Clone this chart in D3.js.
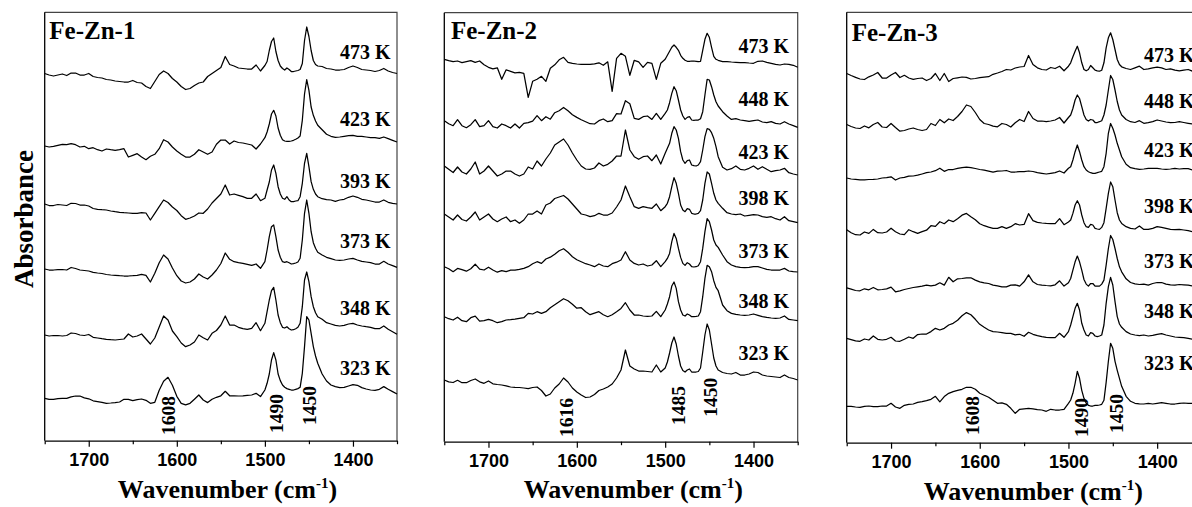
<!DOCTYPE html>
<html><head><meta charset="utf-8">
<script src="https://cdn.jsdelivr.net/npm/d3@7"></script>
<style>body{margin:0;background:#fff}svg{display:block}</style>
</head><body>
<svg id="chart" width="1192" height="507"></svg>
<script>
// ---------------- DATA ----------------
const wavenumbers = [
 1750,1745,1740,1735,1730,1725,1720,1715,1710,1705,
 1700,1695,1690,1685,1680,1675,1670,1665,1660,1655,
 1650,1645,1640,1635,1630,1625,1620,1615,1610,1605,
 1600,1595,1590,1585,1580,1575,1570,1565,1560,1555,
 1550,1545,1540,1535,1530,1525,1520,1515,1510,1505,
 1500,1497.5,1495,1492.5,1490,1487.5,1485,1482.5,1480,1477.5,
 1475,1472.5,1470,1467.5,1465,1462.5,1460,1457.5,1455,1452.5,
 1450,1447.5,1445,1442.5,1440,
 1435,1430,1425,1420,1415,1410,1405,1400,1395,1390,
 1385,1380,1375,1370,1365,1360,1355,1350];

const xTicks = [1700, 1600, 1500, 1400];
const xMinorTicks = [1750, 1650, 1550, 1450, 1350];

// Fe-Zn-1
const fezn1Temps = ["473 K","423 K","393 K","373 K","348 K","323 K"];
const fezn1Offsets = [367.2, 294.7, 236.7, 171.7, 105.7, 42.4];
const fezn1Peaks = ["1608","1490","1450"];
const fezn1PeakPos = [1610, 1487.5, 1450];
const fezn1_473K = [0,-1.5,-2.5,-1.5,-0.5,-2,0.5,0.5,-1.5,-1.5, 0,-3,-4,-4.5,-6,-6.5,-7.5,-8,-8.5,-8.5,
 -7,-9,-9.5,-13,-15,-8,-1,2.5,0,-5, -8.5,-13,-16,-15,-12,-9.5,-8.5,-3,0,3, 6,17,9,7.5,5.5,5,4.5,4.5,8.5,2.5,
 8,12,23,32,35.5,22,13,7.5,5,3.5, 5.5,4,2,2,2.5,3,4,10,33,46.5, 37,23,13,9,7.5,
 7,5,4.5,3.5,3.5,4,6,7.5,6,4, 3.5,3,2,3,5,2.5,1,0];
const fezn1_423K = [0,-1,-0.3,0.7,1.7,1.3,2.3,1.3,-1,-0.3, -2.7,-1.7,-3.7,-5,-3,-3.7,-4.3,-3.7,-2.7,-11,
 -9.3,-7.7,-11,-13.7,-10.3,-8.3,-2.7,6.3,4,-1, -5,-8.3,-11,-11,-8.3,-3.7,-6,-8.3,-6,1.7, 6,6,2,5,3.5,3,2,1,-3,2,
 8.3,14,22,32,35.7,30,18,10.7,6.3,5, 4.7,4.7,5,5.7,6.7,8,10,25.7,52,66.3, 55.7,39,30.7,25,20.7,
 16.3,11.7,9.7,8.7,9,9.7,10.3,10.7,9.7,9.7, 9,8.3,8.3,7.7,9,7.3,5.7,4];
const fezn1_393K = [0,-1.5,-1.5,-0.5,-1,-1.5,0.7,0.5,-1,-1, -2,-4.5,-5.3,-5.7,-6,-7,-7.7,-8.3,-8.7,-9,
 -9.3,-9.3,-8.7,-9,-16,-9.3,-2.7,4,1.5,-3, -6.5,-11.7,-15.3,-14,-12,-9,-9.3,-5,1,5.5, 10,19,9,10,8.7,7.3,5.7,5.7,10,3.3,
 5.7,14,22,34,39,30.7,17.3,10,5.7,4.7, 7.3,4,2.3,2.3,3,3.3,7.3,20.7,40.7,50.7, 37.3,22.3,14.7,10,7.3,
 5.3,4.3,4,2.7,4,4.7,6.7,8,6.7,4.7, 4,3,2,2,4,1.7,0.7,0];
const fezn1_373K = [0,-1,-1,-0.7,-0.5,-1,1.5,0.5,-1,-1.5, -2,-3.3,-4,-4.5,-5.5,-6,-6.3,-6.7,-7,-7,
 -6.7,-6.3,-5.3,-6.3,-13,-4.3,6.3,14,10,1, -6.7,-12,-14,-13,-10,-5,-8,-10,-6,-1, 5.5,16,9.7,7.3,6.3,5.7,4.7,3.7,5,0.7,
 7.3,19,32.3,42.3,44,32.3,19,11.7,7.3,6.7, 7.3,6.3,5,5.3,6,7,10.7,29,55.7,69, 55.7,37.3,26.3,20.7,16.7,
 14,11.7,10.3,9,8.7,9,10,10.7,9,7.7, 7,6.3,5,5,7.7,5,3.3,1.7];
const fezn1_348K = [0,-1,-0.5,-0.5,-1,-0.5,2,1.5,0,-0.5, 0.5,-2.3,-3,-3.7,-4.3,-4.7,-5,-4.5,-4,1,
 -2,-1,1,-4,-9,-3,8,19,15,4, -1.7,-8,-11.7,-10,-7,0,-2.7,-5,1.7,4.5, 10,19,10,10,7.7,6.3,5.7,6.7,12.3,4.3,
 11.7,23.3,35,44.3,47.7,35,20,12.3,7.7,7, 8.3,6.3,5,5.3,6.3,7.7,11.7,28.3,55,63, 53.3,38.3,28.3,22.3,18.3,
 15.7,12.3,11,9.7,9,9.7,11,11.7,10,9, 8.3,7.7,6.3,6.3,9,5.7,3.3,0.7];
const fezn1_323K = [0,-1,-1,-0.3,0,0,1.5,2.3,2.3,0.5, -0.5,-2.5,-3.3,-4,-5,-4.7,-4.3,-3.7,-1,-1,
 -2.3,-1.3,-0.7,-2,-5,-4,8,17,21,13, 2,-5,-6.5,-5,-1,3.3,-1.7,-4.3,-1,1, 2.5,7,2.5,2.5,2.3,2.5,3,3.3,5,1.7,
 8.3,15,24.3,38.3,45.7,38.3,24.3,17.7,13.3,11, 9.7,9,8.3,8.3,9,9.7,11,25,51.7,81.7, 78.3,65,51.7,42.3,35,
 24.3,17.3,13.3,11.7,10.7,11,12.3,13.7,13,10.7, 9.3,8.3,8,9,11.7,9,6.7,4.3];

// Fe-Zn-2
const fezn2Temps = ["473 K","448 K","423 K","398 K","373 K","348 K","323 K"];
const fezn2Offsets = [382.4, 321, 275.7, 227.7, 175, 125, 61.7];
const fezn2Peaks = ["1616","1485","1450"];
const fezn2PeakPos = [1611.5, 1485.5, 1449];
const fezn2_473K = [0,-1.3,-2.3,-1.7,-3.3,-2.3,-1.3,-3,-1.7,-5.5, -8,-9.5,-8.5,-20,-10.5,-12,-13.5,-13,-14,-38,
 -22,-20,-17,-22,-9,-5.5,-0.5,2,-3,-4, -4.7,-5,-5,-5,-4.5,-3.5,-6,-2.5,-32,1, 6,3,-16,-1,-2.5,-8,-3,-4,-20,-4,
 0,4,8,12,14.3,12,9,4,1,-1, -2,-2,-1.7,-1.7,-2,-2.3,-2,9,20,26, 22,12,3,0,-1,
 -2.3,-2.3,-2.7,-3,-3.3,-3.3,-3.7,-4,-2,-1.7, -3,-4,-5,-5.7,-4.7,-5,-6,-8];
const fezn2_448K = [0,-3,-5,1,-5,-7,-4,1,-6,-5, 0,-6,-7.3,-3.3,-5,-7.3,-3.3,-7.3,-2.7,-2,
 -0.5,5,0,4,1.5,8,10,13.3,10,6, 3.3,1,-1,-3,-3.3,0,1.7,-1,0,7, 6.7,20,17,2.3,1.3,4,4.7,1.3,7.3,1.3,
 7.3,10.7,18,27.3,34,30,20.7,10.7,4.7,1.3, 3.3,4,0.7,0.3,0.7,0.7,2,9,25.7,41.3, 40.7,34,25.7,19,14.7,
 9,4.7,1.3,2,0.7,0,-0.7,0,0.7,-1.3, -2,-1,-2.7,-3.3,-1,-3.3,-5,-6.7];
const fezn2_423K = [0,-3.3,-6.5,-1,-6,-8,-3,4,-8,-5, 0,-5,-10,-8,-5,-5,-8,-10,-8,-1,
 -3,5,0,7,13,21,24,27,21,13, 6,0,-3,-3.3,-2,3,0,1.7,5,10, 10,36,16,9.3,6.7,9.3,10,5.3,11,2,
 12.7,17.7,22.7,32.7,39.3,36,27.7,14.3,6,2.7, 5.3,6,1,0.3,0,1,4.3,16,29.3,37.3, 36.7,33.3,27.7,19.3,9.3,
 -1.3,-4,-2.7,0,-3.3,-4,-2.3,0,-3.3,-0.7, -3.3,-5.7,-4.7,-4,-2.3,-6.7,-8,-9];
const fezn2_398K = [0,-3,-6,-1,-5.5,-7,-3,2,-6,-3, 0,-5,-7.7,-5,-3,-7.7,-6,-9.3,-6,0,
 0,3,0,9,11,15.5,17,18.5,15,10, 5,0,-1,-2.7,-1.7,0.7,-1,-1,1,7, 14,28,17.3,7.3,5.7,7.3,6.3,5.7,10,3.3,
 7.3,10.7,17.3,27.3,36.3,30.7,20.7,9,4,2.3, 5.3,4.7,0.7,0,0,0.7,3.3,14,30.7,42, 40,30.7,20.7,14,10.7,
 5.7,1.3,0,-0.7,0,-2,-1.3,-0.7,-1,-2.7, -3.3,-2.7,-4.7,-6,-2.7,-6.7,-7.7,-8.7];
const fezn2_373K = [0,-2,-5,-1.7,-3,-4.5,-2,2.5,-2.5,-3.3, -0.5,-3.3,-5.5,-4,-5,-3.5,-3.5,-2.7,-1.7,0,
 3,5,3.3,7.7,9.5,12.5,16,18,14.5,10, 7,5,3,1.7,0,2.7,0.7,0,3,4.5, 6.7,15,6.7,3.3,1.7,2.7,0.7,1.7,6,0,
 5,8.3,13.3,25,33.3,28.3,18.3,9.3,3.3,1.3, 4,2.7,0,-0.3,0,1,5,18.3,35,48, 45,36.7,26.7,21.7,19.3,
 11.7,5,1.7,0,-0.7,-1,-0.7,0,0,-1.3, -2.7,-3.3,-3.3,-3.3,-1.7,-4.3,-5,-5.3];
const fezn2_348K = [0,-2,-3.3,-0.5,-4,-5,-1,0.5,-4.5,-4, -2.7,-4,-6,-5,-3.3,-3,-2.5,-1.7,-1,3.3,
 2.7,5,3.3,5,9,12,15,18,16,12.5, 8.5,9,5,2,3.5,5,2,0,2,5, 8.3,14,6.7,1.7,1.7,0.7,0.3,0.7,5.3,0,
 6.7,12.7,20,30.7,34.7,28.3,15,6.7,1.7,0.7, 2.7,1.7,0,0,0.3,0.7,5,20,38.3,51.3, 50,45,36,29.3,26,
 11.7,6,3.3,2.3,1.7,1.3,1.7,2.7,1.3,0, -0.7,-1.3,-1.7,-1.3,0.7,-2.7,-3.3,-4];
const fezn2_323K = [0,-1.8,-2.5,-0.3,-2.7,-2.7,-0.5,1,-1.8,-3.3, -1,-3.8,-4.5,-5,-5.8,-7,-7.3,-7.5,-8,-8.7,
 -7.5,-7,-10.5,-16,-14,-8,-4,2,-2,-8, -12,-15,-17.5,-17,-14.5,-10.5,-9,-7,-4,2, 10,30,14,11,9,9,8.5,8,15,8,
 12,18,27,37,43,36,24,14,9.5,8, 10,11,8,8,8,8.5,12,28,45,56, 50,36,22,14,10,
 7.5,6.5,6,7.5,5,5,6,8,7.5,5, 4,3.5,3,2.5,5,2.5,1.5,0];

// Fe-Zn-3
const fezn3Temps = ["473 K","448 K","423 K","398 K","373 K","348 K","323 K"];
const fezn3Offsets = [369.2, 318.2, 264.7, 213, 154.9, 104.4, 36.4];
const fezn3Peaks = ["1608","1490","1450"];
const fezn3PeakPos = [1609, 1486, 1446];
const fezn3_473K = [0,-2,-3.8,-5.5,-6,-3.3,-1.5,1,-4.5,-4.5, -1.5,1,-4,-1.8,-4.5,-5.8,-5,-4.5,-7,-5,
 0,-7,0,-8,-5,-4.3,-3.5,-3.8,-5.5,-5, -4.2,-3.7,-3.2,-0.8,0.5,2,4,3.5,5.5,6.5, 7,18,9,5.7,4,3.5,6,5,7.3,2.7,
 7.3,10.7,16.7,22.3,27.3,20.7,10.7,4,2.7,4, 8,5.7,3.3,2.7,2.3,3.3,10.7,25.7,35.7,40.7, 34,24,14,9,6.7,
 5,4,5.7,7.3,4,4.7,5.7,6.3,5.7,4, 4.7,3.3,2.7,3.3,4,2.3,2.3,1.7];
const fezn3_448K = [0,-2,-3.5,-4,-1.5,-3.3,0,2,-2.5,-3, 1,-3,-6.7,-6,-4.5,-3.5,-5,-6,-5,1,
 -1,5,1.7,5.5,4,8,13,19.5,18,12, 5,1,0,-1.7,-2.3,1,0,-2.5,1.7,5, 3,13,6,3.5,3.5,2.8,3.5,4.5,7,1.5,
 7,9.5,16,24.5,29.5,26,17.8,9.5,5,3.5, 5,4.5,2,2,2.8,3.8,9.5,19.5,34.5,49, 45,34.5,23,14.5,9.5,
 5,2.8,2,3.8,1.2,1.8,2.8,4.5,3.5,2.5, 1.8,2,2.8,2,1.2,0.5,0.5,0];
const fezn3_423K = [0,-1,-1.3,-1.8,-1.8,-1.5,-1.3,-1,0,0.3, 1.2,-2,0,0.7,1.8,2,2.8,4,5.3,6,
 7.3,9.8,6.7,8.5,8.5,9.7,10.3,10.8,10.3,9.5, 8.5,7.8,6.8,5.8,6.8,7,7.5,6,6,6.3, 6.3,7,6.5,5.3,4.7,4,4.7,5.3,7,5,
 9.7,11.3,18,26.3,33,26.3,18,11.3,8,6.3, 5.3,4.7,4.7,5.3,6,6.7,11.3,24.7,44.7,54.5, 49.7,43,34.7,28,21.3,
 13.7,10.3,9.3,8.7,9,9.7,9.7,9.7,9,8.7, 9,9.7,9,9.3,9.3,8,8,8];
const fezn3_398K = [0,-3,-5,-5.3,-2.3,-3.7,0.3,-3,-3.3,-2.3, 1.5,-2,-4.3,-5,0,-2,-3.7,-2,-0.5,4,
 3.3,8,6,9.7,8,11,14.5,16.3,13,10, 6,4,2.5,1.3,1.3,3,1.3,3,6,4.7, 5.3,16,9,7.3,6.7,6.3,6,6,11,5,
 7.7,9.7,16.3,24.7,29,24.7,14.7,7,3,2.3, 5.3,4.7,1.3,0.7,0.3,2.3,7,21.3,36.3,47.7, 43,29.7,17,9.7,6.3,
 3,1.3,0.7,3.7,0.3,0.3,1.3,3,2.3,1.3, 0.3,0,0.3,-0.3,-1,-2,-2,-2];
const fezn3_373K = [0,-1.3,-2.7,-3,-1,-2,0.3,-2,-1.7,-1, 0.7,-4,-3,-1.7,-0.7,0.3,1,1.7,2.7,2,
 2.7,5,2.7,10.5,6,9,9.3,10,10,7.7, 6,5,4.3,2.7,2,1,1,2.7,3,1.7, 6,13,6,3.3,2.7,2.3,2,3,7,1.7,
 5,9.3,17.7,26,31.7,26,17.7,8.3,3.7,1.7, 4.3,4.3,1.7,1.7,1.7,3.7,7.7,22.7,39.3,52.3, 48.3,39.3,29.3,21,16,
 9,5.3,4,3.3,3.7,2.7,4.3,5.3,5.3,3.7, 3,2.7,3.3,3,2.7,1.7,1.5,1.5];
const fezn3_348K = [0,-1.3,-2.5,-3,-0.7,-1.7,2.3,-1,-1.7,-1, 1,-2.7,-3,-1,1.3,0,3.7,4.3,4.3,6.7,
 10,8.3,10,13.3,15,18,22.5,25.7,23.5,19, 14,11,8.3,6.7,6.3,5.7,5,5,3.5,4, 2,6,4,2.7,1.7,1,0.7,0.7,5,1,
 6.7,13.3,21.7,30,35,28.3,15,8.3,3.3,2.3, 5.7,5,2.3,1.7,2.3,3.3,13.3,35,51.7,61, 53.3,36.7,21.7,14.3,11,
 6.7,4.3,3.3,2.7,3.3,2.3,3,4,4.7,3.3, 2.3,1.3,1,0.7,0,-1,-1,-1];
const fezn3_323K = [0,0,-0.7,-1,0,0.3,-0.3,-0.3,0.3,0.3, 3,-0.7,-2,1,2,2.3,4,4.7,5.7,7,
 10,4.5,9.7,13,14.7,16,17,19,19,17, 13,11,9,6,3,3.5,2,-2,-7,-3, -2.5,-2,-2.5,-3.3,-3.7,-5,-3,-3.7,-3.7,-3,
 3,6.3,13,23,35,28,16,8,3,1, 0.3,0.3,1,1,1.3,2,6,24,45,63, 58,45,36,28,20,
 10,5,3,2.5,2.3,3,2.3,3,3.7,3, 2.3,2.3,3,3.3,3,3,3,3];

// ---------------- LAYOUT ----------------
const panels = [
 {title:"Fe-Zn-1", temps:fezn1Temps, offsets:fezn1Offsets,
  series:[fezn1_473K,fezn1_423K,fezn1_393K,fezn1_373K,fezn1_348K,fezn1_323K],
  peaks:fezn1Peaks, peakPos:fezn1PeakPos,
  box:{left:44.7,right:397,top:12.3,bottom:440.7},
  titleX:49.3, titleY:39, labelX:390.5, labelYs:[58.7,126,188.3,248.3,315,375],
  xTitleX:227.5, xTitleY:498.3, peakBottoms:[435,433,425]},
 {title:"Fe-Zn-2", temps:fezn2Temps, offsets:fezn2Offsets,
  series:[fezn2_473K,fezn2_448K,fezn2_423K,fezn2_398K,fezn2_373K,fezn2_348K,fezn2_323K],
  peaks:fezn2Peaks, peakPos:fezn2PeakPos,
  box:{left:444.3,right:797.7,top:12.7,bottom:441.7},
  titleX:451, titleY:39, labelX:789, labelYs:[53.3,105.5,158.8,204.5,258,308.3,360],
  xTitleX:633.3, xTitleY:498.3, peakBottoms:[437,425,416.7]},
 {title:"Fe-Zn-3", temps:fezn3Temps, offsets:fezn3Offsets,
  series:[fezn3_473K,fezn3_448K,fezn3_423K,fezn3_398K,fezn3_373K,fezn3_348K,fezn3_323K],
  peaks:fezn3Peaks, peakPos:fezn3PeakPos,
  box:{left:846.7,right:1201.5,top:12.3,bottom:442.7},
  titleX:851.7, titleY:40.7, labelX:1194.5, labelYs:[62,108.3,156.7,213.3,268.3,318.3,370],
  xTitleX:1033.3, xTitleY:500, peakBottoms:[435,437,433]}
];

const serif = "'Times New Roman','Liberation Serif',serif";
const sans = "Arial,'Liberation Sans',sans-serif";
const svg = d3.select("#chart");

panels.forEach(p => {
  const b = p.box;
  const x = d3.scaleLinear().domain([1750, 1350]).range([b.left, b.right]);
  const y = d3.scaleLinear().domain([0, b.bottom - b.top]).range([b.bottom, b.top]);
  const g = svg.append("g");

  g.append("path")
    .attr("d", `M${b.left},${b.top}H${b.right}V${b.bottom}`)
    .attr("fill","none").attr("stroke","#444").attr("stroke-width",1.2);
  g.append("line").attr("x1",b.left).attr("x2",b.left).attr("y1",b.top).attr("y2",b.bottom)
    .attr("stroke","#000").attr("stroke-width",1.3);

  const major = g.append("g").attr("transform",`translate(0,${b.bottom})`)
    .call(d3.axisBottom(x).tickValues(xTicks).tickSize(6).tickSizeOuter(0).tickPadding(7).tickFormat(d3.format("d")));
  major.select(".domain").attr("stroke","#000").attr("stroke-width",1.3);
  major.selectAll(".tick line").attr("stroke","#000").attr("stroke-width",1.2);
  major.selectAll(".tick text").attr("font-family",sans).attr("font-weight","bold")
    .attr("font-size",18).attr("fill","#000");
  const minor = g.append("g").attr("transform",`translate(0,${b.bottom})`)
    .call(d3.axisBottom(x).tickValues(xMinorTicks).tickSize(3.5).tickSizeOuter(0).tickFormat(""));
  minor.select(".domain").remove();
  minor.selectAll(".tick line").attr("stroke","#000").attr("stroke-width",1.2);

  p.series.forEach((vals, k) => {
    const off = p.offsets[k];
    const line = d3.line()
      .x((d, i) => x(wavenumbers[i]))
      .y(d => y(d + off));
    g.append("path").datum(vals).attr("d", line)
      .attr("fill","none").attr("stroke","#000").attr("stroke-width",1.25)
      .attr("stroke-linejoin","round");
    g.append("text").attr("x", p.labelX).attr("y", p.labelYs[k])
      .attr("text-anchor","end").attr("font-family",serif).attr("font-weight","bold")
      .attr("font-size",20).text(p.temps[k]);
  });

  g.append("text").attr("x",p.titleX).attr("y",p.titleY)
    .attr("font-family",serif).attr("font-weight","bold").attr("font-size",25).text(p.title);

  p.peaks.forEach((t, k) => {
    g.append("text")
      .attr("transform",`translate(${x(p.peakPos[k])},${p.peakBottoms[k]}) rotate(-90)`)
      .attr("dy","0.35em").attr("font-family",serif).attr("font-weight","bold")
      .attr("font-size",19.5).text(t);
  });

  const xt = g.append("text").attr("x",p.xTitleX).attr("y",p.xTitleY).attr("text-anchor","middle")
    .attr("font-family",serif).attr("font-weight","bold").attr("font-size",26);
  xt.append("tspan").text("Wavenumber (cm");
  xt.append("tspan").attr("dy",-10).attr("font-size",15).text("-1");
  xt.append("tspan").attr("dy",10).text(")");
});

svg.append("text").attr("transform","translate(33,219) rotate(-90)")
  .attr("text-anchor","middle").attr("font-family",serif).attr("font-weight","bold")
  .attr("font-size",27).text("Absorbance");
</script>
</body></html>
